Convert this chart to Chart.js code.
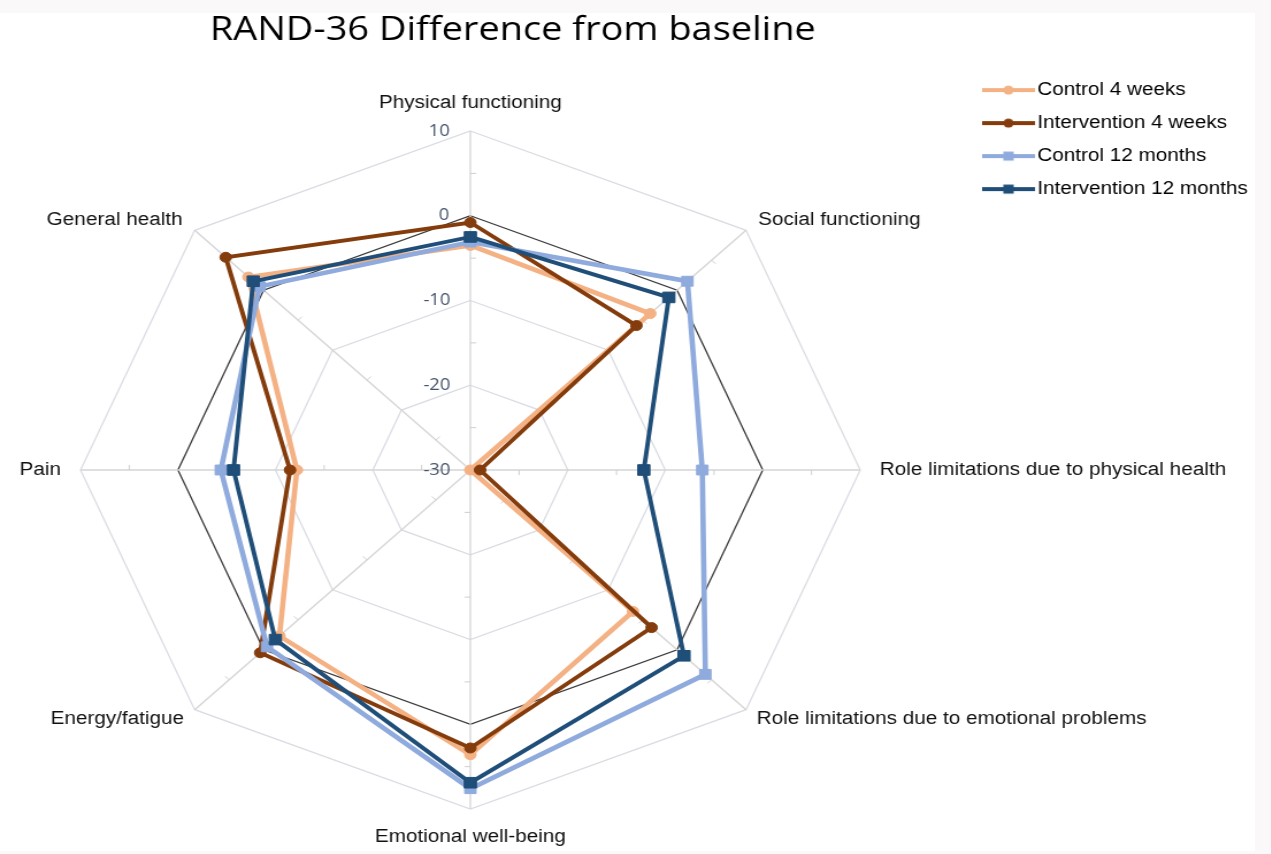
<!DOCTYPE html>
<html lang="en">
<head>
  <meta charset="UTF-8" />
  <title>RAND-36 Difference from baseline</title>
  <script src="https://cdn.jsdelivr.net/npm/chart.js"></script>
  <style>
    html, body { margin: 0; padding: 0; background: #faf8f8; overflow: hidden; }
    #paper { position: absolute; left: 0; top: 13px; width: 1255px; height: 838px; background: #fff; }
    /* the original picture is stretched sideways, so the whole chart is too */
    #wrap { position: absolute; left: 0; top: 0; width: 1105px; height: 854px; transform: scaleX(1.15); transform-origin: 0 0; }
  </style>
</head>
<body>
  <div id="paper"></div>
  <div id="wrap"><canvas id="radar" width="1105" height="854"></canvas></div>

  <script>
    const categories = [
      'Physical functioning',
      'Social functioning',
      'Role limitations due to physical health',
      'Role limitations due to emotional problems',
      'Emotional well-being',
      'Energy/fatigue',
      'Pain',
      'General health'
    ];
    const control4w       = [-3.5, -3.9, -30,   -6.4, 3.6, -2.3, -12.2, 2.2];
    const intervention4w  = [-0.8, -5.9, -29,   -3.7, 2.8,  0.5, -11.5, 5.5];
    const control12m      = [-3.1,  1.5, -6.2,   4.1, 7.6, -0.5,  -4.4, 0.6];
    const intervention12m = [-2.5, -1.2, -12.2,  1.0, 6.9, -1.7,  -5.7, 1.5];
    const tickMin = -30, tickMax = 10, tickStep = 10;

    // radar geometry (canvas px, before the sideways stretch)
    const CX = 409, CY = 470, RADIUS = 339;

    class FixedRadialScale extends Chart.RadialLinearScale {
      static id = 'fixedRadial';
      setCenterPoint() {
        this.xCenter = CX;
        this.yCenter = CY;
        this.drawingArea = RADIUS;
      }
    }
    Chart.register(FixedRadialScale);

    // tick labels sit left of the vertical spoke
    const measure = document.createElement('canvas').getContext('2d');
    measure.font = '16px "Open Sans"';
    function leftOfAxis(text) {
      const w = measure.measureText(text).width;
      const s = measure.measureText(' ').width;
      return text + ' '.repeat(Math.max(0, Math.round((w + 35) / s)));
    }

    function legendIcon(color, shape, lw, size) {
      const c = document.createElement('canvas');
      c.width = 46; c.height = 14;
      const g = c.getContext('2d');
      g.strokeStyle = color; g.lineWidth = lw;
      g.beginPath(); g.moveTo(0, 7); g.lineTo(46, 7); g.stroke();
      g.fillStyle = color;
      if (shape === 'circle') { g.beginPath(); g.arc(23, 7, size, 0, Math.PI * 2); g.fill(); }
      else g.fillRect(23 - size, 7 - size, size * 2, size * 2);
      return c;
    }

    const colors = ['#F4B183', '#843C0C', '#8FAADC', '#1F4E79'];
    const icons = [
      legendIcon(colors[0], 'circle', 4, 4.5),
      legendIcon(colors[1], 'circle', 4, 4.5),
      legendIcon(colors[2], 'rect', 4, 4.5),
      legendIcon(colors[3], 'rect', 4, 4.5)
    ];

    // small tick marks on every spoke, on the clockwise side
    const spokeTicks = {
      id: 'spokeTicks',
      beforeDatasetsDraw(chart) {
        const r = chart.scales.r, ctx = chart.ctx;
        ctx.save();
        ctx.strokeStyle = '#cfcfcf';
        ctx.lineWidth = 1;
        for (let i = 0; i < categories.length; i++) {
          const a = r.getIndexAngle(i) - Math.PI / 2;
          const nx = -Math.sin(a), ny = Math.cos(a);
          for (let v = tickMin + 5; v < tickMax; v += 10) {
            const p = r.getPointPositionForValue(i, v);
            ctx.beginPath();
            ctx.moveTo(p.x, p.y);
            ctx.lineTo(p.x + nx * 5, p.y + ny * 5);
            ctx.stroke();
          }
        }
        ctx.restore();
      }
    };

    function series(label, data, color, width, style, radius, order) {
      return {
        label, data, order,
        borderColor: color,
        backgroundColor: color,
        borderWidth: width,
        pointStyle: style,
        pointRadius: radius,
        pointBorderWidth: 1,
        pointBackgroundColor: color,
        pointBorderColor: color,
        fill: false
      };
    }

    // diagonal labels sit level with their spoke end, like the original
    const diagonal = (i) => i % 2 === 1;
    const lowerHalf = (i) => i === 3 || i === 5;

    new Chart(document.getElementById('radar'), {
      type: 'radar',
      data: {
        labels: categories,
        datasets: [
          series('Control 4 weeks', control4w, colors[0], 4.6, 'circle', 5, 4),
          series('Intervention 4 weeks', intervention4w, colors[1], 3.9, 'circle', 5, 3),
          series('Control 12 months', control12m, colors[2], 4.6, 'rect', 7, 2),
          series('Intervention 12 months', intervention12m, colors[3], 3.9, 'rect', 7.5, 1)
        ]
      },
      options: {
        responsive: false,
        animation: false,
        devicePixelRatio: 1,
        layout: { padding: { left: 46, right: 10, top: 0, bottom: 0 } },
        elements: { line: { tension: 0 } },
        scales: {
          r: {
            type: 'fixedRadial',
            min: tickMin,
            max: tickMax,
            ticks: {
              stepSize: tickStep,
              showLabelBackdrop: false,
              backdropPadding: 0,
              color: '#44546A',
              font: { family: 'Open Sans', size: 16 },
              callback: (v) => leftOfAxis(String(v))
            },
            grid: {
              circular: false,
              color: (c) => (c.tick && c.tick.value === 0 ? '#3a3a3a' : '#d9dce3'),
              lineWidth: 1.3
            },
            angleLines: { color: '#d4d4d4', lineWidth: 1.3 },
            pointLabels: {
              padding: (c) => (lowerHalf(c.index) ? 5 : (diagonal(c.index) ? 7 : 9)),
              color: '#111',
              font: (c) => ({
                family: 'Liberation Sans',
                size: 18,
                lineHeight: diagonal(c.index) ? 0 : 1.2
              })
            }
          }
        },
        plugins: {
          title: {
            display: true,
            text: 'RAND-36 Difference from baseline',
            fullSize: false,
            color: '#000',
            font: { family: 'Open Sans', size: 33, weight: 'normal' },
            padding: { top: 11, bottom: 15.5 }
          },
          legend: {
            position: 'right',
            align: 'start',
            fullSize: false,
            labels: {
              usePointStyle: true,
              pointStyleWidth: 32,
              padding: 15,
              color: '#000',
              font: { family: 'Liberation Sans', size: 18 },
              generateLabels(chart) {
                const items = Chart.defaults.plugins.legend.labels.generateLabels(chart);
                items.forEach((it) => { it.pointStyle = icons[it.datasetIndex]; });
                return items;
              },
              sort: (a, b) => a.datasetIndex - b.datasetIndex
            }
          },
          tooltip: { enabled: false }
        }
      },
      plugins: [spokeTicks]
    });
  </script>
</body>
</html>
